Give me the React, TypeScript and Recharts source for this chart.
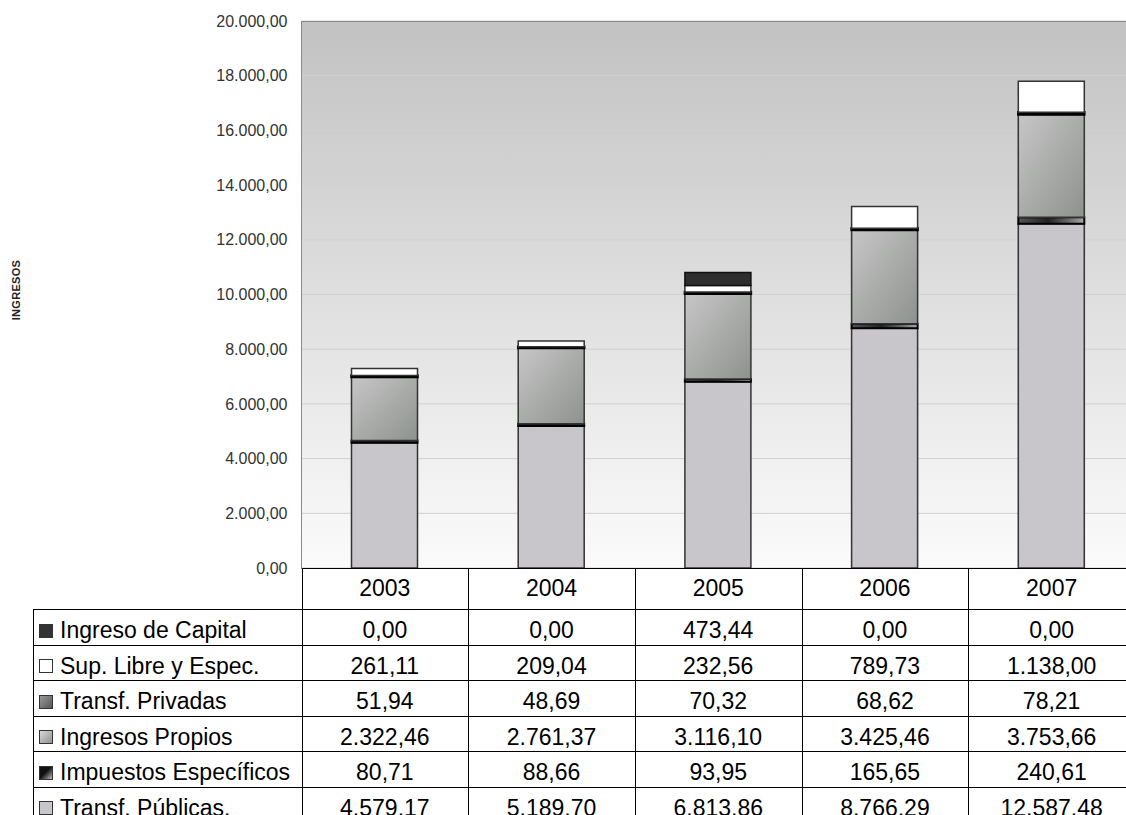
import { BarChart, Bar, XAxis, YAxis, CartesianGrid } from "recharts";

const years = ["2003", "2004", "2005", "2006", "2007"];
const transfPublicas = [4579.17, 5189.7, 6813.86, 8766.29, 12587.48];
const impuestosEspecificos = [80.71, 88.66, 93.95, 165.65, 240.61];
const ingresosPropios = [2322.46, 2761.37, 3116.1, 3425.46, 3753.66];
const transfPrivadas = [51.94, 48.69, 70.32, 68.62, 78.21];
const supLibre = [261.11, 209.04, 232.56, 789.73, 1138.0];
const ingresoCapital = [0, 0, 473.44, 0, 0];
const yTicks = [0, 2000, 4000, 6000, 8000, 10000, 12000, 14000, 16000, 18000, 20000];

const data = years.map((year, i) => ({
  year,
  transfPublicas: transfPublicas[i],
  impuestosEspecificos: impuestosEspecificos[i],
  ingresosPropios: ingresosPropios[i],
  transfPrivadas: transfPrivadas[i],
  supLibre: supLibre[i],
  ingresoCapital: ingresoCapital[i],
}));

// table rows, top to bottom (reverse of the stack)
const rows = [
  { key: "ingresoCapital", name: "Ingreso de Capital", values: ingresoCapital, icon: "#333333" },
  { key: "supLibre", name: "Sup. Libre y Espec.", values: supLibre, icon: "#ffffff" },
  { key: "transfPrivadas", name: "Transf. Privadas", values: transfPrivadas, icon: "linear-gradient(135deg,#9a9a9a,#555)" },
  { key: "ingresosPropios", name: "Ingresos Propios", values: ingresosPropios, icon: "linear-gradient(135deg,#d8d8d8,#8f938f)" },
  { key: "impuestosEspecificos", name: "Impuestos Específicos", values: impuestosEspecificos, icon: "linear-gradient(135deg,#111 45%,#bbb)" },
  { key: "transfPublicas", name: "Transf. Públicas.", values: transfPublicas, icon: "#c8c6ca" },
];

function fmt(v: number) {
  const [int, dec] = v.toFixed(2).split(".");
  return int.replace(/\B(?=(\d{3})+(?!\d))/g, ".") + "," + dec;
}

const FONT = '"Liberation Sans", Arial, sans-serif';
const PLOT_L = 301.5;
const PLOT_R = 1135;
const PLOT_T = 21;
const PLOT_B = 568;
const COL_W = (PLOT_R - PLOT_L) / years.length;
const HEAD_H = 41;
const ROW_H = 35.5;
const TABLE_L = 33;
const TABLE_B = 815;
const CHART_H = 590;

export default function App() {
  const rowTop = (i: number) => PLOT_B + HEAD_H + i * ROW_H;
  return (
    <div
      style={{
        position: "absolute",
        left: 0,
        top: 0,
        width: 1126,
        height: 815,
        overflow: "hidden",
        background: "#fff",
        fontFamily: FONT,
        color: "#000",
      }}
    >
      <BarChart
        width={1140}
        height={CHART_H}
        data={data}
        barSize={66}
        margin={{ top: PLOT_T, right: 1140 - PLOT_R, left: 0, bottom: CHART_H - PLOT_B }}
      >
        <defs>
          <linearGradient id="bg" x1="0" y1="0" x2="0" y2="1">
            <stop offset="0" stopColor="#c2c2c2" />
            <stop offset="1" stopColor="#fbfbfb" />
          </linearGradient>
          <linearGradient id="propios" x1="0" y1="0" x2="1" y2="1">
            <stop offset="0" stopColor="#c6c6c6" />
            <stop offset="1" stopColor="#8e928e" />
          </linearGradient>
          <linearGradient id="impuestos" x1="0" y1="0" x2="1" y2="0">
            <stop offset="0" stopColor="#555" />
            <stop offset="0.45" stopColor="#222" />
            <stop offset="0.75" stopColor="#666" />
            <stop offset="1" stopColor="#aaa" />
          </linearGradient>
        </defs>
        <CartesianGrid vertical={false} fill="url(#bg)" stroke="#d0d0d0" />
        <XAxis dataKey="year" hide />
        <YAxis
          width={PLOT_L}
          domain={[0, 20000]}
          ticks={yTicks}
          interval={0}
          axisLine={false}
          tickLine={false}
          tickMargin={8}
          tickFormatter={fmt}
          tick={{ fontSize: 16, fill: "#333", fontFamily: FONT }}
        />
        <Bar dataKey="transfPublicas" stackId="a" fill="#c8c6ca" stroke="#333" strokeWidth={1.5} isAnimationActive={false} />
        <Bar dataKey="impuestosEspecificos" stackId="a" fill="url(#impuestos)" stroke="#000" strokeWidth={2} isAnimationActive={false} />
        <Bar dataKey="ingresosPropios" stackId="a" fill="url(#propios)" stroke="#333" strokeWidth={1.5} isAnimationActive={false} />
        <Bar dataKey="transfPrivadas" stackId="a" fill="#111" stroke="#000" strokeWidth={2.5} isAnimationActive={false} />
        <Bar dataKey="supLibre" stackId="a" fill="#ffffff" stroke="#333" strokeWidth={1.5} isAnimationActive={false} />
        <Bar dataKey="ingresoCapital" stackId="a" fill="#2e2e2e" stroke="#111" strokeWidth={1.5} isAnimationActive={false} />
      </BarChart>

      {/* plot border */}
      <div
        style={{
          position: "absolute",
          left: PLOT_L - 0.5,
          top: PLOT_T - 0.5,
          width: PLOT_R - PLOT_L,
          height: PLOT_B - PLOT_T,
          borderTop: "1px solid #8a8a8a",
          borderLeft: "1px solid #8a8a8a",
          pointerEvents: "none",
        }}
      />

      <div
        style={{
          position: "absolute",
          transform: "translate(-50%,-50%) rotate(-90deg)",
          left: 16,
          top: 290,
          fontSize: 11,
          fontWeight: "bold",
          letterSpacing: 0.3,
          color: "#222",
          whiteSpace: "nowrap",
        }}
      >
        INGRESOS
      </div>

      {/* table lines */}
      <div style={{ position: "absolute", left: PLOT_L, top: PLOT_B, width: PLOT_R - PLOT_L, height: 1, background: "#000" }} />
      {rows.map((_, i) => (
        <div
          key={"h" + i}
          style={{ position: "absolute", left: TABLE_L, top: rowTop(i), width: PLOT_R - TABLE_L, height: 1, background: "#000" }}
        />
      ))}
      <div style={{ position: "absolute", left: TABLE_L, top: rowTop(0), width: 1, height: TABLE_B - rowTop(0), background: "#000" }} />
      {years.map((_, j) => (
        <div
          key={"v" + j}
          style={{ position: "absolute", left: PLOT_L + j * COL_W, top: PLOT_B, width: 1, height: TABLE_B - PLOT_B, background: "#000" }}
        />
      ))}

      {/* header */}
      {years.map((y, j) => (
        <div
          key={"y" + y}
          style={{
            position: "absolute",
            left: PLOT_L + j * COL_W,
            top: PLOT_B,
            width: COL_W,
            height: HEAD_H,
            lineHeight: HEAD_H + "px",
            textAlign: "center",
            fontSize: 23,
          }}
        >
          {y}
        </div>
      ))}

      {/* rows */}
      {rows.map((r, i) => (
        <div key={r.key}>
          <div
            style={{
              position: "absolute",
              left: 39,
              top: rowTop(i) + ROW_H / 2 - 3,
              width: 12,
              height: 12,
              border: "1px solid #333",
              background: r.icon,
            }}
          />
          <div
            style={{
              position: "absolute",
              left: 60,
              top: rowTop(i) + 4,
              height: ROW_H,
              lineHeight: ROW_H + "px",
              fontSize: 23,
              whiteSpace: "nowrap",
            }}
          >
            {r.name}
          </div>
          {r.values.map((v, j) => (
            <div
              key={j}
              style={{
                position: "absolute",
                left: PLOT_L + j * COL_W,
                top: rowTop(i) + 4,
                width: COL_W,
                height: ROW_H,
                lineHeight: ROW_H + "px",
                textAlign: "center",
                fontSize: 23,
              }}
            >
              {fmt(v)}
            </div>
          ))}
        </div>
      ))}
    </div>
  );
}
